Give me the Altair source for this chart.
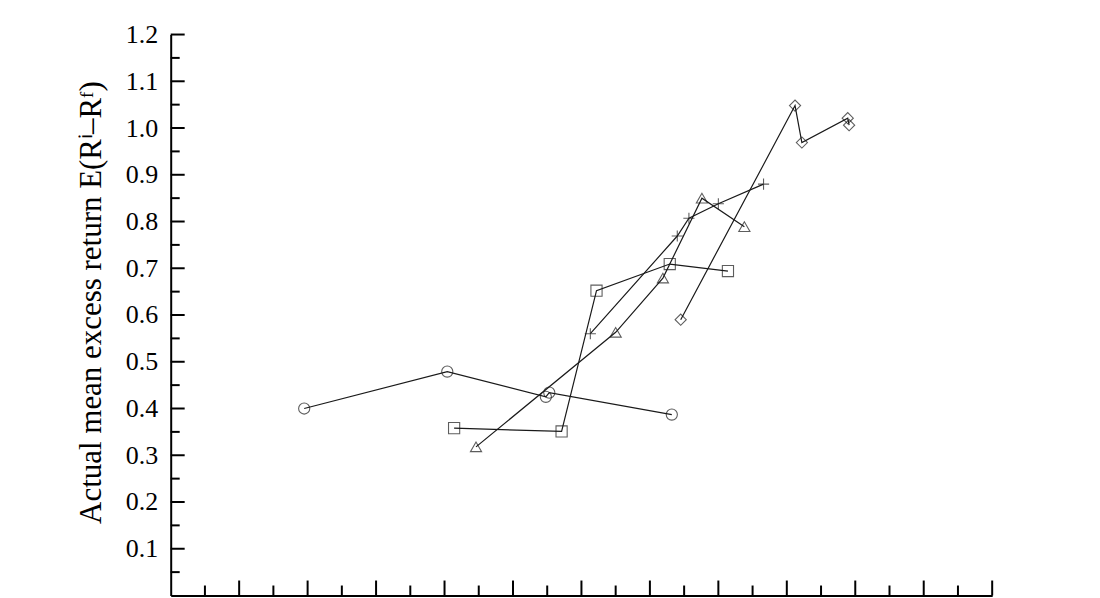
import altair as alt
import pandas as pd

# ---- data ----
series_names = ["circle", "square", "triangle", "cross", "diamond"]

circle_x = [0.195, 0.404, 0.548, 0.553, 0.732]
circle_y = [0.400, 0.479, 0.425, 0.434, 0.387]

square_x = [0.414, 0.571, 0.622, 0.729, 0.814]
square_y = [0.358, 0.351, 0.652, 0.709, 0.694]

triangle_x = [0.446, 0.650, 0.719, 0.776, 0.838]
triangle_y = [0.318, 0.563, 0.679, 0.850, 0.789]

cross_x = [0.613, 0.740, 0.757, 0.800, 0.866]
cross_y = [0.560, 0.769, 0.807, 0.838, 0.880]

diamond_x = [0.745, 0.912, 0.922, 0.989, 0.991]
diamond_y = [0.590, 1.048, 0.969, 1.021, 1.006]

y_labels = [0.1, 0.2, 0.3, 0.4, 0.5, 0.6, 0.7, 0.8, 0.9, 1.0, 1.1, 1.2]
major_ticks = [0.1, 0.2, 0.3, 0.4, 0.5, 0.6, 0.7, 0.8, 0.9, 1.0, 1.1, 1.2]
minor_ticks = [0.05, 0.15, 0.25, 0.35, 0.45, 0.55, 0.65, 0.75, 0.85, 0.95, 1.05, 1.15]

y_title = "Actual mean excess return E(R\u2071\u2013R\u1da0)"

# ---- build table ----
series_data = {
    "circle": (circle_x, circle_y),
    "square": (square_x, square_y),
    "triangle": (triangle_x, triangle_y),
    "cross": (cross_x, cross_y),
    "diamond": (diamond_x, diamond_y),
}
rows = []
for name in series_names:
    xs, ys = series_data[name]
    for i, (xv, yv) in enumerate(zip(xs, ys)):
        rows.append({"series": name, "order": i, "x": xv, "y": yv})
df = pd.DataFrame(rows)

W, H = 823, 562
FONT = "Liberation Serif"

xscale = alt.Scale(domain=[0, 1.2], nice=False, zero=False)
yscale = alt.Scale(domain=[0, 1.2], nice=False, zero=False)

x_axis = alt.Axis(labels=False, ticks=False, grid=False, title=None,
                  domainColor="black", domainWidth=2)
y_axis = alt.Axis(values=y_labels, format=".1f", ticks=False, grid=False,
                  labelPadding=13, labelFont=FONT, labelFontSize=26,
                  labelColor="black", domainColor="black", domainWidth=2,
                  title=y_title, titleFont=FONT, titleFontSize=31,
                  titleFontWeight="normal", titleColor="black", titlePadding=18,
                  titleY=268)

base = alt.Chart(df)

lines = base.mark_line(color="#1a1a1a", strokeWidth=1.2).encode(
    x=alt.X("x:Q", scale=xscale, axis=x_axis),
    y=alt.Y("y:Q", scale=yscale, axis=y_axis),
    detail="series:N",
    order="order:Q",
)

shape_scale = alt.Scale(
    domain=series_names,
    range=["circle", "square", "triangle-up", "M-1,0L1,0M0,-1L0,1", "diamond"],
)

points = base.mark_point(filled=False, color="#1a1a1a", strokeWidth=1.1, size=125).encode(
    x=alt.X("x:Q", scale=xscale),
    y=alt.Y("y:Q", scale=yscale),
    shape=alt.Shape("series:N", scale=shape_scale, legend=None),
)

ymaj = alt.Chart(pd.DataFrame({"v": major_ticks})).mark_rule(color="black", strokeWidth=2).encode(
    y=alt.Y("v:Q", scale=yscale), x=alt.value(0), x2=alt.value(14))
ymin = alt.Chart(pd.DataFrame({"v": minor_ticks})).mark_rule(color="black", strokeWidth=2).encode(
    y=alt.Y("v:Q", scale=yscale), x=alt.value(0), x2=alt.value(9))
xmaj = alt.Chart(pd.DataFrame({"v": major_ticks})).mark_rule(color="black", strokeWidth=2).encode(
    x=alt.X("v:Q", scale=xscale), y=alt.value(H), y2=alt.value(H - 15))
xmin = alt.Chart(pd.DataFrame({"v": minor_ticks})).mark_rule(color="black", strokeWidth=2).encode(
    x=alt.X("v:Q", scale=xscale), y=alt.value(H), y2=alt.value(H - 10))

chart = alt.layer(lines, points, ymaj, ymin, xmaj, xmin).properties(
    width=W, height=H,
    background="white",
    autosize=alt.AutoSizeParams(type="none"),
    padding={"left": 163, "top": 26, "right": 100, "bottom": 40},
).configure_view(stroke=None, strokeWidth=0)

chart.save("out.html", embed_options={"renderer": "svg", "actions": False})
